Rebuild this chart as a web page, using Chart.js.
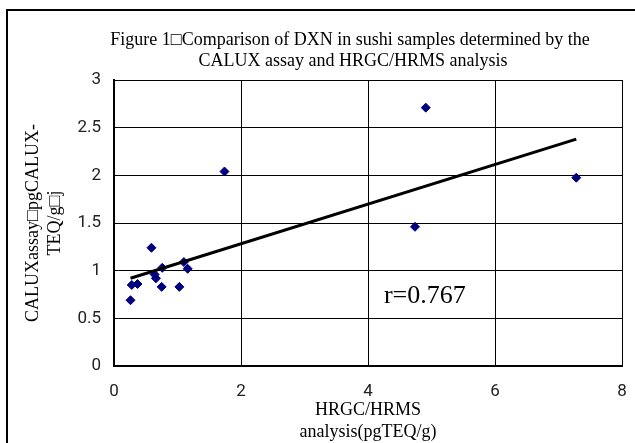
<!DOCTYPE html>
<html>
<head>
<meta charset="utf-8">
<script src="https://cdn.jsdelivr.net/npm/chart.js@4.4.0/dist/chart.umd.min.js"></script>
<style>
	body { margin: 0; background: #fff; }
	canvas { display: block; }
</style>
</head>
<body>
<canvas id="dxn-chart" width="635" height="443"></canvas>
<script>
//DXN in sushi - CALUX vs HRGC/HRMS

var hrgcValues = [0.26, 0.28, 0.37, 0.59, 0.64, 0.66, 0.76, 0.75, 1.03, 1.10, 1.16, 1.74, 4.74, 4.91, 7.28];
var caluxValues = [0.69, 0.85, 0.86, 1.24, 0.96, 0.92, 1.03, 0.83, 0.83, 1.09, 1.02, 2.04, 1.46, 2.71, 1.975];

// trend line (ends of the fitted line)
var trendX = [0.26, 7.28];
var trendY = [0.92, 2.38];

var titleLines = [
	'Figure 1\u25A1Comparison of DXN in sushi samples determined by the',
	'CALUX assay and HRGC/HRMS analysis'
];
var xTitleLines = ['HRGC/HRMS', 'analysis(pgTEQ/g)'];
var yTitleLines = ['CALUXassay\u25A1pgCALUX-', 'TEQ/g\u25A1j'];
var rLabel = 'r=0.767';
var rLabelAt = [4.25, 0.66];

var serif = "'Liberation Serif', 'Times New Roman', serif";
var tickFont = "'Liberation Sans Narrow', 'Roboto', 'Liberation Sans', sans-serif";

var scatterData = hrgcValues.map(function(x, i){
	return { x: x, y: caluxValues[i] };
});
var trendData = trendX.map(function(x, i){
	return { x: x, y: trendY[i] };
});

// frame, title and the r= note
var dxnDecor = {
	id: 'dxnDecor',
	beforeDraw: function(chart){
		var ctx = chart.ctx;
		ctx.save();
		ctx.fillStyle = '#fff';
		ctx.fillRect(0, 0, chart.width, chart.height);
		ctx.strokeStyle = '#000';
		ctx.lineWidth = 2;
		ctx.strokeRect(7, 10, 700, 500);
		ctx.restore();
	},
	afterDraw: function(chart){
		var ctx = chart.ctx;
		ctx.save();
		ctx.fillStyle = '#000';
		ctx.textAlign = 'center';
		ctx.textBaseline = 'middle';
		ctx.font = '18px ' + serif;
		ctx.fillText(titleLines[0], 350, 40);
		ctx.fillText(titleLines[1], 353, 61);

		var xs = chart.scales.x, ys = chart.scales.y;
		ctx.textAlign = 'left';
		ctx.textBaseline = 'alphabetic';
		ctx.font = '26px ' + serif;
		ctx.fillText(rLabel, xs.getPixelForValue(rLabelAt[0]), ys.getPixelForValue(rLabelAt[1]));
		ctx.restore();
	}
};

window.addEventListener('load', function(){
	var dxnCtx = document.getElementById('dxn-chart').getContext('2d');
	var dxnChart = new Chart(dxnCtx, {
		type: 'scatter',
		data: {
			datasets: [
				{
					data: scatterData,
					pointStyle: 'rectRot',
					pointRadius: 4.5,
					backgroundColor: '#000080',
					borderColor: '#000080',
					borderWidth: 1,
					order: 2
				},
				{
					type: 'line',
					data: trendData,
					showLine: true,
					borderColor: '#000',
					borderWidth: 3,
					pointRadius: 0,
					fill: false,
					order: 1
				}
			]
		},
		options: {
			responsive: false,
			animation: false,
			layout: {
				padding: { left: 8, right: 13, top: 80, bottom: 0 }
			},
			plugins: {
				legend: { display: false },
				tooltip: { enabled: false },
				title: { display: false }
			},
			scales: {
				x: {
					type: 'linear',
					min: 0,
					max: 8,
					afterFit: function(scale){ scale.height = 77; },
					ticks: {
						stepSize: 2,
						padding: 6,
						color: '#222',
						font: { family: tickFont, size: 17 },
						callback: function(v){ return String(v); }
					},
					grid: { color: '#000', lineWidth: 1, drawTicks: true, tickLength: 10, tickColor: 'rgba(0,0,0,0)' },
					border: { color: '#000', width: 2 },
					title: {
						display: true,
						text: xTitleLines,
						color: '#000',
						font: { family: serif, size: 18, lineHeight: 1.2 },
						padding: { top: 0, bottom: 0 }
					}
				},
				y: {
					type: 'linear',
					min: 0,
					max: 3,
					afterFit: function(scale){ scale.width = 106; },
					ticks: {
						stepSize: 0.5,
						padding: 13,
						color: '#222',
						font: { family: tickFont, size: 17 },
						callback: function(v){ return String(v); }
					},
					grid: { color: '#000', lineWidth: 1, drawTicks: false },
					border: { color: '#000', width: 2 },
					title: {
						display: true,
						text: yTitleLines,
						color: '#000',
						font: { family: serif, size: 18, lineHeight: 1.25 },
						padding: { top: 14, bottom: 0 }
					}
				}
			}
		},
		plugins: [dxnDecor]
	});
});
</script>
</body>
</html>
